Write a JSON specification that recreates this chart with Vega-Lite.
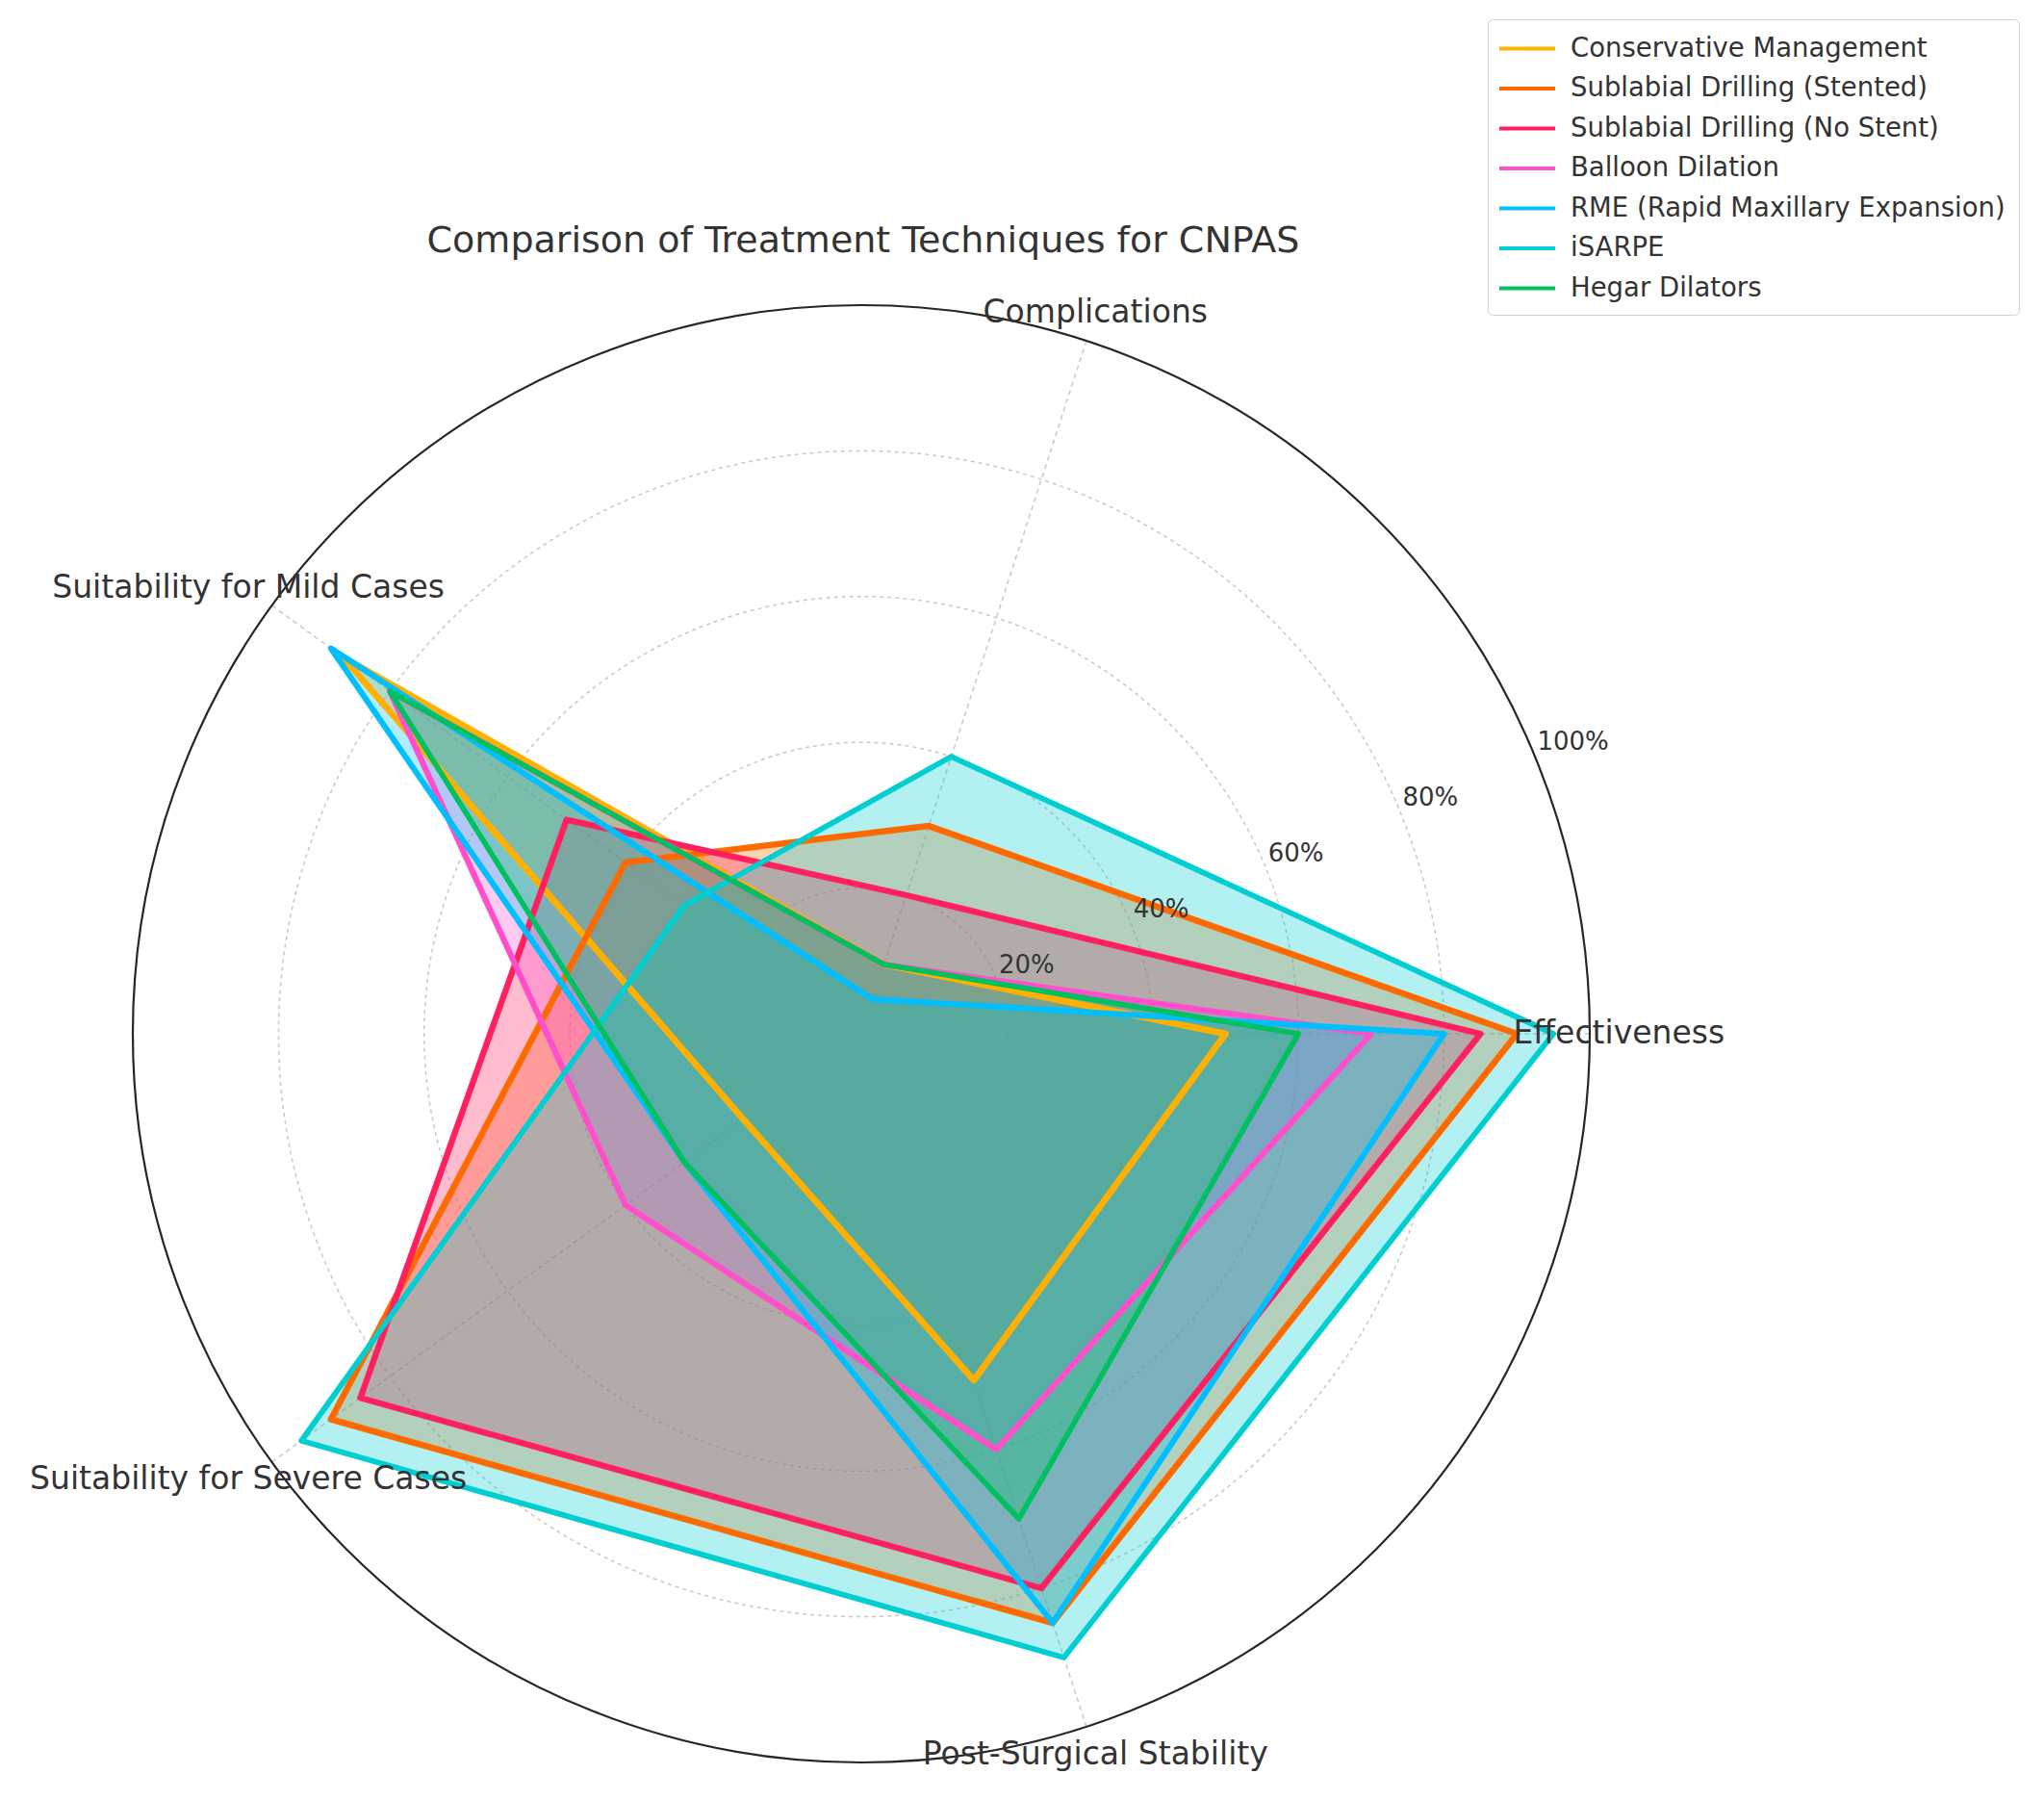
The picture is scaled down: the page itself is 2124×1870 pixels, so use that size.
{
  "$schema": "https://vega.github.io/schema/vega-lite/v6.json",
  "width": 2124,
  "height": 1870,
  "padding": 0,
  "autosize": {"type": "none"},
  "background": "white",
  "config": {"view": {"stroke": null}, "font": "DejaVu Sans"},
  "title": {
    "text": "Comparison of Treatment Techniques for CNPAS",
    "fontSize": 38, "font": "DejaVu Sans", "fontWeight": "normal", "color": "#333333",
    "anchor": "middle", "frame": "group", "offset": 0, "baseline": "middle", "dx": -165, "dy": 289
  },
  "datasets": {
    "scores": [
      {"technique": "Conservative Management", "criterion": "Effectiveness", "value": 0.5},
      {"technique": "Conservative Management", "criterion": "Complications", "value": 0.1},
      {"technique": "Conservative Management", "criterion": "Suitability for Mild Cases", "value": 0.88},
      {"technique": "Conservative Management", "criterion": "Suitability for Severe Cases", "value": 0.2},
      {"technique": "Conservative Management", "criterion": "Post-Surgical Stability", "value": 0.5},
      {"technique": "Sublabial Drilling (Stented)", "criterion": "Effectiveness", "value": 0.9},
      {"technique": "Sublabial Drilling (Stented)", "criterion": "Complications", "value": 0.3},
      {"technique": "Sublabial Drilling (Stented)", "criterion": "Suitability for Mild Cases", "value": 0.4},
      {"technique": "Sublabial Drilling (Stented)", "criterion": "Suitability for Severe Cases", "value": 0.9},
      {"technique": "Sublabial Drilling (Stented)", "criterion": "Post-Surgical Stability", "value": 0.85},
      {"technique": "Sublabial Drilling (No Stent)", "criterion": "Effectiveness", "value": 0.85},
      {"technique": "Sublabial Drilling (No Stent)", "criterion": "Complications", "value": 0.2},
      {"technique": "Sublabial Drilling (No Stent)", "criterion": "Suitability for Mild Cases", "value": 0.5},
      {"technique": "Sublabial Drilling (No Stent)", "criterion": "Suitability for Severe Cases", "value": 0.85},
      {"technique": "Sublabial Drilling (No Stent)", "criterion": "Post-Surgical Stability", "value": 0.8},
      {"technique": "Balloon Dilation", "criterion": "Effectiveness", "value": 0.7},
      {"technique": "Balloon Dilation", "criterion": "Complications", "value": 0.1},
      {"technique": "Balloon Dilation", "criterion": "Suitability for Mild Cases", "value": 0.8},
      {"technique": "Balloon Dilation", "criterion": "Suitability for Severe Cases", "value": 0.4},
      {"technique": "Balloon Dilation", "criterion": "Post-Surgical Stability", "value": 0.6},
      {"technique": "RME (Rapid Maxillary Expansion)", "criterion": "Effectiveness", "value": 0.8},
      {"technique": "RME (Rapid Maxillary Expansion)", "criterion": "Complications", "value": 0.05},
      {"technique": "RME (Rapid Maxillary Expansion)", "criterion": "Suitability for Mild Cases", "value": 0.9},
      {"technique": "RME (Rapid Maxillary Expansion)", "criterion": "Suitability for Severe Cases", "value": 0.3},
      {"technique": "RME (Rapid Maxillary Expansion)", "criterion": "Post-Surgical Stability", "value": 0.85},
      {"technique": "iSARPE", "criterion": "Effectiveness", "value": 0.95},
      {"technique": "iSARPE", "criterion": "Complications", "value": 0.4},
      {"technique": "iSARPE", "criterion": "Suitability for Mild Cases", "value": 0.3},
      {"technique": "iSARPE", "criterion": "Suitability for Severe Cases", "value": 0.95},
      {"technique": "iSARPE", "criterion": "Post-Surgical Stability", "value": 0.9},
      {"technique": "Hegar Dilators", "criterion": "Effectiveness", "value": 0.6},
      {"technique": "Hegar Dilators", "criterion": "Complications", "value": 0.1},
      {"technique": "Hegar Dilators", "criterion": "Suitability for Mild Cases", "value": 0.8},
      {"technique": "Hegar Dilators", "criterion": "Suitability for Severe Cases", "value": 0.3},
      {"technique": "Hegar Dilators", "criterion": "Post-Surgical Stability", "value": 0.7}
    ],
    "criteria": [
      {"criterion": "Effectiveness"},
      {"criterion": "Complications"},
      {"criterion": "Suitability for Mild Cases"},
      {"criterion": "Suitability for Severe Cases"},
      {"criterion": "Post-Surgical Stability"}
    ],
    "rings": [{"r": 0.2}, {"r": 0.4}, {"r": 0.6}, {"r": 0.8}],
    "outer": [{"r": 1.0}],
    "ticks": [{"r": 0.2}, {"r": 0.4}, {"r": 0.6}, {"r": 0.8}, {"r": 1.0}]
  },
  "layer": [
    {
      "data": {"name": "rings"},
      "mark": {"type": "point", "shape": "circle", "filled": false, "stroke": "#c8c8c8", "strokeWidth": 1.5, "strokeDash": [4, 4], "opacity": 1},
      "encoding": {
        "x": {"datum": 0, "type": "quantitative", "scale": {"domain": [-1.182299, 1.623514], "nice": false, "zero": false}, "axis": null},
        "y": {"datum": 0, "type": "quantitative", "scale": {"domain": [-1.051519, 1.418758], "nice": false, "zero": false}, "axis": null},
        "size": {"field": "r", "type": "quantitative", "scale": {"type": "pow", "exponent": 2, "domain": [0, 1], "range": [0, 2292196], "zero": true}, "legend": null}
      }
    },
    {
      "data": {"name": "criteria"},
      "transform": [
        {"calculate": "indexof(['Effectiveness','Complications','Suitability for Mild Cases','Suitability for Severe Cases','Post-Surgical Stability'], datum.criterion)", "as": "idx"},
        {"calculate": "datum.idx * 2 * PI / 5", "as": "ang"},
        {"calculate": "cos(datum.ang)", "as": "ex"},
        {"calculate": "sin(datum.ang)", "as": "ey"}
      ],
      "mark": {"type": "rule", "stroke": "#c8c8c8", "strokeWidth": 1.5, "strokeDash": [5, 4]},
      "encoding": {
        "x": {"field": "ex", "type": "quantitative", "scale": {"domain": [-1.182299, 1.623514], "nice": false, "zero": false}, "axis": null},
        "y": {"field": "ey", "type": "quantitative", "scale": {"domain": [-1.051519, 1.418758], "nice": false, "zero": false}, "axis": null},
        "x2": {"datum": 0},
        "y2": {"datum": 0}
      }
    },
    {
      "data": {"name": "outer"},
      "mark": {"type": "point", "shape": "circle", "filled": false, "stroke": "#262626", "strokeWidth": 2.2, "opacity": 1},
      "encoding": {
        "x": {"datum": 0, "type": "quantitative", "scale": {"domain": [-1.182299, 1.623514], "nice": false, "zero": false}, "axis": null},
        "y": {"datum": 0, "type": "quantitative", "scale": {"domain": [-1.051519, 1.418758], "nice": false, "zero": false}, "axis": null},
        "size": {"field": "r", "type": "quantitative", "scale": {"type": "pow", "exponent": 2, "domain": [0, 1], "range": [0, 2292196], "zero": true}, "legend": null}
      }
    },
    {
      "data": {"name": "scores"},
      "transform": [
        {"calculate": "indexof(['Effectiveness','Complications','Suitability for Mild Cases','Suitability for Severe Cases','Post-Surgical Stability'], datum.criterion)", "as": "idx"},
        {"calculate": "datum.idx * 2 * PI / 5", "as": "ang"},
        {"calculate": "datum.value * cos(datum.ang)", "as": "px"},
        {"calculate": "datum.value * sin(datum.ang)", "as": "py"}
      ],
      "mark": {"type": "line", "filled": true, "interpolate": "linear-closed", "fillOpacity": 0.3, "strokeOpacity": 0},
      "encoding": {
        "x": {"field": "px", "type": "quantitative", "scale": {"domain": [-1.182299, 1.623514], "nice": false, "zero": false}, "axis": null},
        "y": {"field": "py", "type": "quantitative", "scale": {"domain": [-1.051519, 1.418758], "nice": false, "zero": false}, "axis": null},
        "order": {"field": "idx", "type": "quantitative"},
        "color": {
          "field": "technique", "type": "nominal",
          "scale": {
            "domain": ["Conservative Management", "Sublabial Drilling (Stented)", "Sublabial Drilling (No Stent)", "Balloon Dilation", "RME (Rapid Maxillary Expansion)", "iSARPE", "Hegar Dilators"],
            "range": ["#FFB000", "#FF6A00", "#FF2060", "#FF4FCB", "#00BFFF", "#00CED1", "#00C060"]
          }
        }
      }
    },
    {
      "data": {"name": "scores"},
      "transform": [
        {"calculate": "indexof(['Effectiveness','Complications','Suitability for Mild Cases','Suitability for Severe Cases','Post-Surgical Stability'], datum.criterion)", "as": "idx"},
        {"calculate": "datum.idx * 2 * PI / 5", "as": "ang"},
        {"calculate": "datum.value * cos(datum.ang)", "as": "px"},
        {"calculate": "datum.value * sin(datum.ang)", "as": "py"}
      ],
      "mark": {"type": "line", "interpolate": "linear-closed", "strokeJoin": "round"},
      "encoding": {
        "x": {"field": "px", "type": "quantitative", "scale": {"domain": [-1.182299, 1.623514], "nice": false, "zero": false}, "axis": null},
        "y": {"field": "py", "type": "quantitative", "scale": {"domain": [-1.051519, 1.418758], "nice": false, "zero": false}, "axis": null},
        "order": {"field": "idx", "type": "quantitative"},
        "color": {
          "field": "technique", "type": "nominal",
          "scale": {
            "domain": ["Conservative Management", "Sublabial Drilling (Stented)", "Sublabial Drilling (No Stent)", "Balloon Dilation", "RME (Rapid Maxillary Expansion)", "iSARPE", "Hegar Dilators"],
            "range": ["#FFB000", "#FF6A00", "#FF2060", "#FF4FCB", "#00BFFF", "#00CED1", "#00C060"]
          },
          "legend": {
            "title": null, "orient": "none", "legendX": 1546, "legendY": 20,
            "symbolType": "M-2,0H2", "symbolSize": 841, "symbolStrokeWidth": 4, "symbolOffset": 10.5,
            "labelFontSize": 27.5, "labelFont": "DejaVu Sans", "labelColor": "#333333", "labelOffset": 28.5, "labelLimit": 0,
            "rowPadding": 11.5, "padding": 14, "strokeColor": "#d0d0d0", "fillColor": "white", "cornerRadius": 5
          }
        },
        "strokeWidth": {
          "field": "technique", "type": "nominal",
          "scale": {
            "domain": ["Hegar Dilators", "iSARPE", "RME (Rapid Maxillary Expansion)", "Balloon Dilation", "Sublabial Drilling (No Stent)", "Sublabial Drilling (Stented)", "Conservative Management"],
            "range": [5.6, 6.8, 6, 3.8, 4.6, 4.6, 5.5]
          },
          "legend": null
        }
      }
    },
    {
      "data": {"name": "criteria"},
      "transform": [
        {"calculate": "indexof(['Effectiveness','Complications','Suitability for Mild Cases','Suitability for Severe Cases','Post-Surgical Stability'], datum.criterion)", "as": "idx"},
        {"calculate": "datum.idx * 2 * PI / 5", "as": "ang"},
        {"calculate": "1.04 * cos(datum.ang)", "as": "lx"},
        {"calculate": "1.04 * sin(datum.ang)", "as": "ly"}
      ],
      "mark": {"type": "text", "align": "center", "baseline": "middle", "fontSize": 33, "font": "DejaVu Sans", "color": "#333333"},
      "encoding": {
        "x": {"field": "lx", "type": "quantitative", "scale": {"domain": [-1.182299, 1.623514], "nice": false, "zero": false}, "axis": null},
        "y": {"field": "ly", "type": "quantitative", "scale": {"domain": [-1.051519, 1.418758], "nice": false, "zero": false}, "axis": null},
        "text": {"field": "criterion", "type": "nominal"}
      }
    },
    {
      "data": {"name": "ticks"},
      "transform": [
        {"calculate": "datum.r * cos(PI / 8)", "as": "tx"},
        {"calculate": "datum.r * sin(PI / 8)", "as": "ty"}
      ],
      "mark": {"type": "text", "align": "left", "baseline": "bottom", "dx": 3, "fontSize": 26, "font": "DejaVu Sans", "color": "#333333"},
      "encoding": {
        "x": {"field": "tx", "type": "quantitative", "scale": {"domain": [-1.182299, 1.623514], "nice": false, "zero": false}, "axis": null},
        "y": {"field": "ty", "type": "quantitative", "scale": {"domain": [-1.051519, 1.418758], "nice": false, "zero": false}, "axis": null},
        "text": {"field": "r", "type": "quantitative", "format": ".0%"}
      }
    }
  ]
}
